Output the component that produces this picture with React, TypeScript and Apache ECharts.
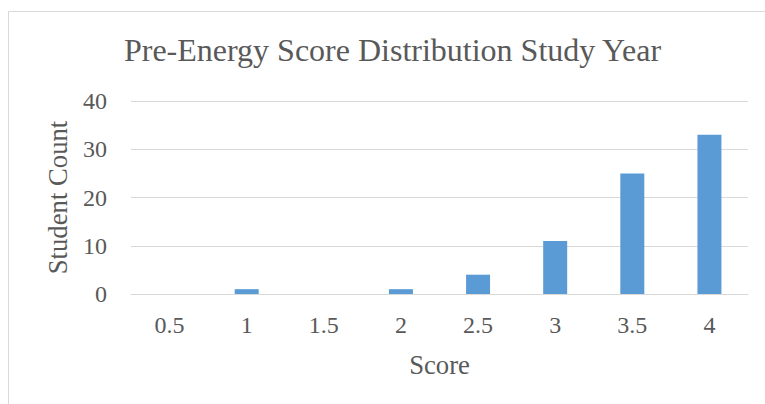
import React, { useEffect, useRef } from "react";
import * as echarts from "echarts";

const categories = ["0.5", "1", "1.5", "2", "2.5", "3", "3.5", "4"];
const counts = [0, 1, 0, 1, 4, 11, 25, 33];
const titleText = "Pre-Energy Score Distribution Study Year";
const yAxisName = "Student Count";
const xAxisName = "Score";

const FONT = "'Liberation Serif', 'Times New Roman', serif";
const TEXT = "#595959";
const GRID = "#d9d9d9";

export default function App() {
  const ref = useRef<HTMLDivElement>(null);
  useEffect(() => {
    if (!ref.current) return;
    const chart = echarts.init(ref.current, undefined, { renderer: "svg" });
    chart.setOption({
      animation: false,
      backgroundColor: "#ffffff",
      grid: { left: 131, right: 17, top: 101, bottom: 110 },
      graphic: [
        {
          type: "rect",
          shape: { x: 8.5, y: 11.5, width: 900, height: 600 },
          style: { fill: "none", stroke: GRID, lineWidth: 1 },
          silent: true,
        },
        {
          type: "text",
          x: 392.5,
          y: 50,
          style: {
            text: titleText,
            font: `32px ${FONT}`,
            fill: TEXT,
            align: "center",
            verticalAlign: "middle",
          },
        },
      ],
      xAxis: {
        type: "category",
        data: categories,
        name: xAxisName,
        nameLocation: "middle",
        nameGap: 57,
        nameTextStyle: { fontFamily: FONT, fontSize: 26.7, color: TEXT, verticalAlign: "top" },
        axisLine: { lineStyle: { color: GRID, width: 1 } },
        axisTick: { show: false },
        axisLabel: { fontFamily: FONT, fontSize: 24, color: TEXT, margin: 19 },
      },
      yAxis: {
        type: "value",
        min: 0,
        max: 40,
        interval: 10,
        name: yAxisName,
        nameLocation: "middle",
        nameGap: 60,
        nameTextStyle: { fontFamily: FONT, fontSize: 26.7, color: TEXT },
        axisLine: { show: false },
        axisTick: { show: false },
        splitLine: { lineStyle: { color: GRID, width: 1 } },
        axisLabel: { fontFamily: FONT, fontSize: 24, color: TEXT, margin: 24 },
      },
      series: [
        {
          type: "bar",
          data: counts,
          barWidth: 24,
          itemStyle: { color: "#5b9bd5" },
        },
      ],
    });
    return () => chart.dispose();
  }, []);
  return (
    <div
      ref={ref}
      style={{ position: "absolute", left: 0, top: 0, width: 765, height: 404 }}
    />
  );
}
